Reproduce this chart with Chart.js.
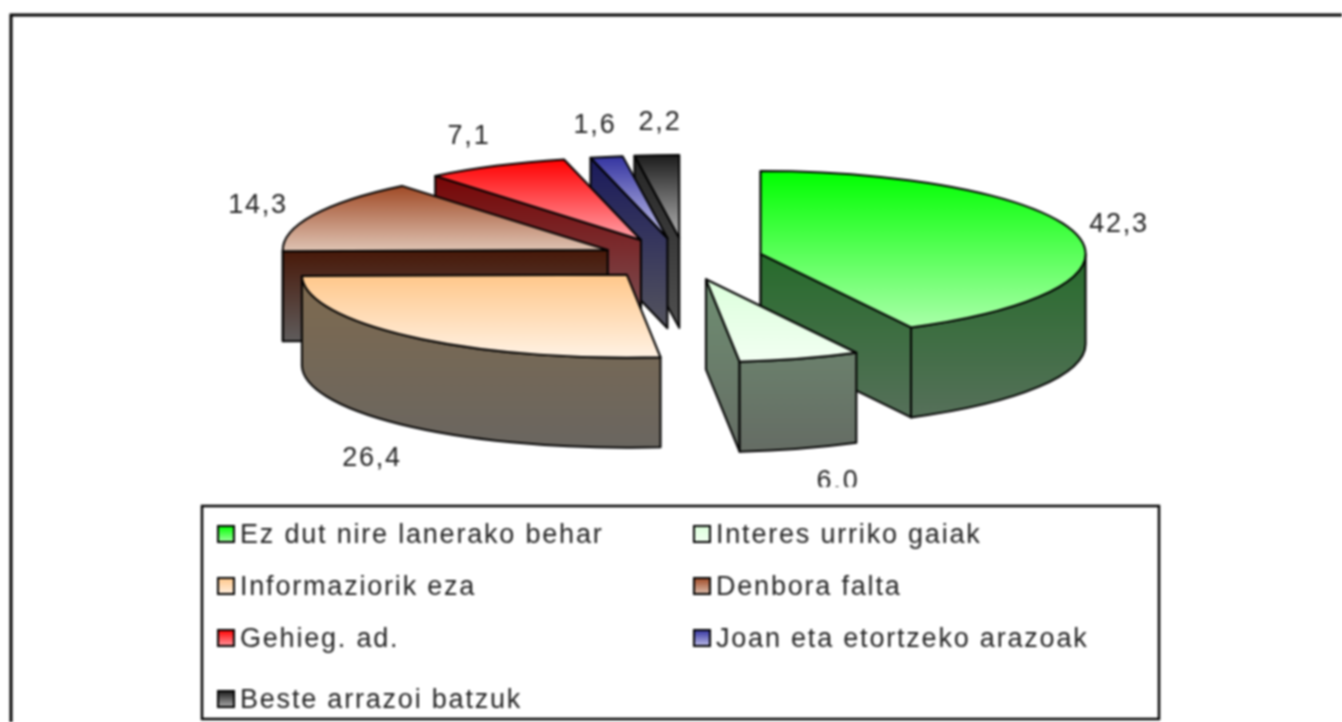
<!DOCTYPE html>
<html>
<head>
<meta charset="utf-8">
<style>
  html, body { margin: 0; padding: 0; background: #fff; overflow: hidden; }
  canvas { display: block; filter: blur(0.8px); }
</style>
<script src="https://cdn.jsdelivr.net/npm/chart.js@4"></script>
</head>
<body>
<canvas id="pie" width="1342" height="722"></canvas>
<script>
// values
const categories = [
  'Ez dut nire lanerako behar',
  'Interes urriko gaiak',
  'Informaziorik eza',
  'Denbora falta',
  'Gehieg. ad.',
  'Joan eta etortzeko arazoak',
  'Beste arrazoi batzuk'
];
const shares = [42.3, 6.0, 26.4, 14.3, 7.1, 1.6, 2.2];
const shareLabels = ['42,3', '6,0', '26,4', '14,3', '7,1', '1,6', '2,2'];

// look of the slices
const topFrom = ['#00ff00', '#dcffdc', '#ffc78a', '#a04a26', '#ff0000', '#3434a0', '#1c1c1c'];
const topTo = ['#aaffaa', '#f2fff2', '#fff2e4', '#dfc4b4', '#ffa0a8', '#c4c4ec', '#b4b4b4'];
const wallFrom = ['#0f6a14', '#6f8f72', '#7f6a4e', '#481808', '#780606', '#1a1a5c', '#262626'];
const wallTo = ['#56705a', '#656c64', '#6a6660', '#5f5c5c', '#7c585c', '#54545e', '#505050'];

// layout
const explode = 83;
const nudgeX = [0, 2, 2, 3, -2, 3, 5];
const tilt = 0.255;
const depth = 90;
const paintOrder = [6, 5, 4, 3, 2, 0, 1];
const labelSpots = [[1119, 232], [838, 489], [372, 466], [258, 213], [469, 144], [595, 133], [660, 130]];
const legendBox = { left: 202, top: 506, right: 1159, bottom: 719 };
const legendCols = [217, 693];
const legendRows = [543, 595, 647, 708];
const textFont = '27px "Liberation Sans"';

function sliceAngles(i) {
  const total = shares.reduce((a, b) => a + b, 0);
  const before = shares.slice(0, i).reduce((a, b) => a + b, 0);
  const start = -Math.PI / 2 + before / total * Math.PI * 2;
  return [start, start + shares[i] / total * Math.PI * 2];
}

// gradient for the flat top of a slice, in the unsquashed frame of the arc
function topGradient(c) {
  const chart = c.chart;
  if (!chart.chartArea || c.dataIndex === undefined) return topFrom[0];
  const cy = (chart.chartArea.top + chart.chartArea.bottom) / 2;
  const r = c.dataset.radius;
  const [a0, a1] = sliceAngles(c.dataIndex);
  const ys = [cy, cy + Math.sin(a0) * r, cy + Math.sin(a1) * r];
  if (a0 <= -Math.PI / 2 && a1 >= -Math.PI / 2) ys.push(cy - r);
  if (a0 <= Math.PI / 2 && a1 >= Math.PI / 2) ys.push(cy + r);
  if (a0 <= Math.PI * 1.5 && a1 >= Math.PI * 1.5) ys.push(cy - r);
  const g = chart.ctx.createLinearGradient(0, Math.min(...ys), 0, Math.max(...ys));
  g.addColorStop(0, topFrom[c.dataIndex]);
  g.addColorStop(1, topTo[c.dataIndex]);
  return g;
}

const pie3d = {
  id: 'pie3d',
  beforeDraw(chart) {
    const ctx = chart.ctx;
    ctx.save();
    ctx.fillStyle = '#fff';
    ctx.fillRect(0, 0, chart.width, chart.height);
    ctx.strokeStyle = '#000';
    ctx.lineWidth = 3;
    ctx.beginPath();
    ctx.moveTo(11, chart.height);
    ctx.lineTo(11, 15);
    ctx.lineTo(chart.width, 15);
    ctx.stroke();
    ctx.restore();
  },
  beforeDatasetDraw(chart, args) {
    const ctx = chart.ctx;
    const arcs = args.meta.data;
    paintOrder.forEach(i => {
      const el = arcs[i];
      const { x, y, startAngle, endAngle, outerRadius: r } = el.getProps(['x', 'y', 'startAngle', 'endAngle', 'outerRadius']);
      const mid = (startAngle + endAngle) / 2;
      const cx = x + Math.cos(mid) * explode + nudgeX[i];
      const cy = y + Math.sin(mid) * explode * tilt;
      const rimX = a => cx + Math.cos(a) * r;
      const rimY = a => cy + Math.sin(a) * r * tilt;

      ctx.save();
      ctx.lineWidth = 2;
      ctx.lineJoin = 'round';
      ctx.strokeStyle = '#000';

      // only the cut faces that look at the viewer are drawn
      const faces = [];
      if (Math.cos(startAngle) < 0.0001) faces.push(startAngle);
      if (Math.cos(endAngle) > 0.0001) faces.push(endAngle);

      const minY = Math.min(cy, ...faces.map(rimY));
      const maxY = Math.max(cy, rimY(startAngle), rimY(endAngle));
      const wall = ctx.createLinearGradient(0, minY, 0, maxY + depth);
      wall.addColorStop(0, wallFrom[i]);
      wall.addColorStop(1, wallTo[i]);
      ctx.fillStyle = wall;

      faces.forEach(a => {
        ctx.beginPath();
        ctx.moveTo(cx, cy);
        ctx.lineTo(rimX(a), rimY(a));
        ctx.lineTo(rimX(a), rimY(a) + depth);
        ctx.lineTo(cx, cy + depth);
        ctx.closePath();
        ctx.fill();
        ctx.stroke();
      });

      // curved outer wall, front half of the rim only
      const a0 = Math.max(startAngle, 0);
      const a1 = Math.min(endAngle, Math.PI);
      if (a1 > a0) {
        ctx.beginPath();
        ctx.ellipse(cx, cy, r, r * tilt, 0, a0, a1);
        ctx.ellipse(cx, cy + depth, r, r * tilt, 0, a1, a0, true);
        ctx.closePath();
        ctx.fill();
        ctx.stroke();
      }

      // the flat top is the library's own arc, squashed
      ctx.save();
      ctx.translate(cx - x, cy);
      ctx.scale(1, tilt);
      ctx.translate(0, -y);
      el.draw(ctx);
      ctx.restore();

      ctx.beginPath();
      ctx.moveTo(cx, cy);
      ctx.ellipse(cx, cy, r, r * tilt, 0, startAngle, endAngle);
      ctx.closePath();
      ctx.stroke();
      ctx.restore();
    });
    return false;
  },
  afterDraw(chart) {
    const ctx = chart.ctx;
    ctx.save();
    ctx.font = textFont;
    ctx.letterSpacing = '1.8px';
    ctx.textBaseline = 'alphabetic';
    ctx.fillStyle = '#222';

    // value labels, the one under the small slice is cut by the legend area
    ctx.textAlign = 'center';
    shareLabels.forEach((t, i) => {
      ctx.save();
      ctx.beginPath();
      ctx.rect(0, 0, chart.width, 487);
      ctx.clip();
      ctx.fillText(t, labelSpots[i][0], labelSpots[i][1]);
      ctx.restore();
    });

    // legend box, two columns
    const b = legendBox;
    ctx.fillStyle = '#fff';
    ctx.fillRect(b.left, b.top, b.right - b.left, b.bottom - b.top);
    ctx.strokeStyle = '#000';
    ctx.lineWidth = 2.5;
    ctx.strokeRect(b.left, b.top, b.right - b.left, b.bottom - b.top);
    ctx.textAlign = 'left';
    categories.forEach((name, i) => {
      const sx = legendCols[i % 2];
      const base = legendRows[Math.floor(i / 2)];
      const g = ctx.createLinearGradient(0, base - 17, 0, base);
      g.addColorStop(0, topFrom[i]);
      g.addColorStop(1, topTo[i]);
      ctx.fillStyle = g;
      ctx.fillRect(sx + 1, base - 17, 16, 16);
      ctx.lineWidth = 2;
      ctx.strokeRect(sx + 1, base - 17, 16, 16);
      ctx.fillStyle = '#222';
      ctx.fillText(name, sx + 23, base);
    });
    ctx.restore();
  }
};

new Chart(document.getElementById('pie'), {
  type: 'pie',
  data: {
    labels: categories,
    datasets: [{
      data: shares,
      radius: 325,
      borderWidth: 0,
      backgroundColor: topGradient
    }]
  },
  options: {
    responsive: false,
    animation: false,
    layout: { padding: { left: 18, top: 0, right: 0, bottom: 204 } },
    plugins: { legend: { display: false }, tooltip: { enabled: false } }
  },
  plugins: [pie3d]
});
</script>
</body>
</html>
